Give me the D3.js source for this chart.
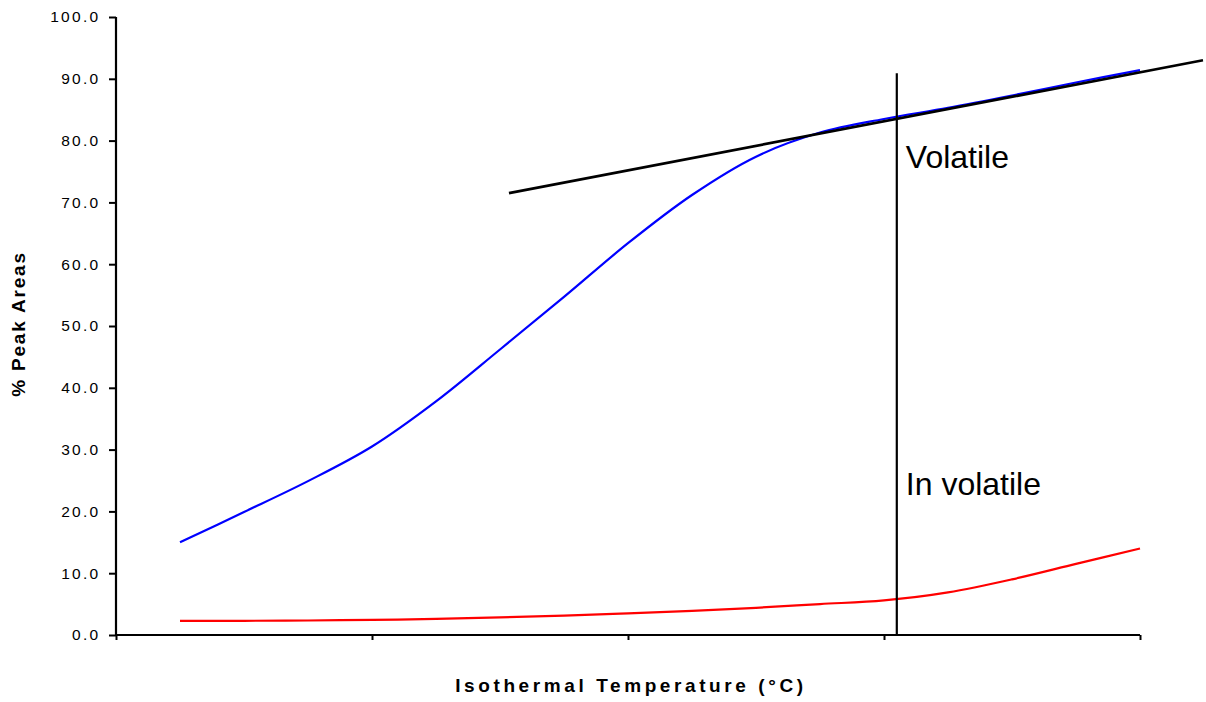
<!DOCTYPE html>
<html>
<head>
<meta charset="utf-8">
<script src="https://cdn.jsdelivr.net/npm/d3@7"></script>
<style>
  html, body { margin: 0; padding: 0; background: #fff; }
  svg { display: block; }
  text { font-family: "Liberation Sans", Arial, sans-serif; fill: #000; }
</style>
</head>
<body>
<svg id="chart" width="1206" height="702"></svg>
<script>
// ---- data ----
const xPositions = [0.25, 0.5, 0.75, 1.0, 1.25, 1.5, 1.75, 2.0, 2.25, 2.5, 2.75, 3.0, 3.25, 3.5, 3.75, 4.0];
const volatileValues   = [15.0, 19.9, 24.9, 30.5, 37.8, 46.2, 54.7, 63.4, 71.2, 77.4, 81.3, 83.5, 85.3, 87.3, 89.4, 91.4];
const involatileValues = [2.3, 2.3, 2.35, 2.45, 2.6, 2.85, 3.15, 3.5, 3.9, 4.4, 5.0, 5.6, 6.9, 9.0, 11.5, 14.0];
const tangentX = [1.535, 4.246];
const tangentY = [71.5, 93.0];
const dividerX = [3.05, 3.05];
const dividerY = [0, 90.9];
const xTicks = [0, 1, 2, 3, 4];
const yTicks = [0, 10, 20, 30, 40, 50, 60, 70, 80, 90, 100];
const xTitle = "Isothermal Temperature (°C)";
const yTitle = "% Peak Areas";
const labelVolatile = "Volatile";
const labelInvolatile = "In volatile";

// ---- layout ----
const svg = d3.select("#chart");
const x = d3.scaleLinear().domain([0, 4]).range([116, 1140]);
const y = d3.scaleLinear().domain([0, 100]).range([635, 17]);

// y axis
const yAxis = svg.append("g")
  .attr("transform", "translate(116,0)")
  .call(d3.axisLeft(y).tickValues(yTicks).tickFormat(d3.format(".1f")).tickSize(7).tickPadding(8.5));
yAxis.select(".domain").attr("stroke", "#000").attr("stroke-width", 2.2).attr("d", `M0,${y(100)}V${y(0)}`);
yAxis.selectAll(".tick line").attr("stroke", "#000").attr("stroke-width", 2);
yAxis.selectAll(".tick text")
  .style("font-family", '"Liberation Sans", Arial, sans-serif')
  .style("font-size", "15.5px")
  .style("letter-spacing", "2.3px")
  .attr("fill", "#000");

// x axis
const xAxis = svg.append("g")
  .attr("transform", "translate(0,635)")
  .call(d3.axisBottom(x).tickValues(xTicks).tickFormat("").tickSize(5));
xAxis.select(".domain").attr("stroke", "#000").attr("stroke-width", 2.2).attr("d", `M${x(0)},0H${x(4)}`);
xAxis.selectAll(".tick line").attr("stroke", "#000").attr("stroke-width", 2);

// lines
const line = d3.line()
  .x((d, i) => x(xPositions[i]))
  .y(d => y(d))
  .curve(d3.curveCatmullRom.alpha(0.5));

svg.append("path")
  .datum(involatileValues)
  .attr("d", line)
  .attr("fill", "none")
  .attr("stroke", "#ff0000")
  .attr("stroke-width", 2.2);

svg.append("path")
  .datum(volatileValues)
  .attr("d", line)
  .attr("fill", "none")
  .attr("stroke", "#0000ff")
  .attr("stroke-width", 2.2);

const straight = d3.line().x(d => x(d[0])).y(d => y(d[1]));

svg.append("path")
  .datum(d3.zip(tangentX, tangentY))
  .attr("d", straight)
  .attr("fill", "none")
  .attr("stroke", "#000")
  .attr("stroke-width", 2.6);

svg.append("path")
  .datum(d3.zip(dividerX, dividerY))
  .attr("d", straight)
  .attr("fill", "none")
  .attr("stroke", "#000")
  .attr("stroke-width", 2.2);

// region labels
svg.append("text")
  .attr("x", x(dividerX[0]) + 9)
  .attr("y", 168)
  .style("font-size", "32px")
  .text(labelVolatile);

svg.append("text")
  .attr("x", x(dividerX[0]) + 9)
  .attr("y", 495)
  .style("font-size", "32px")
  .text(labelInvolatile);

// axis titles
svg.append("text")
  .attr("x", 631)
  .attr("y", 692)
  .attr("text-anchor", "middle")
  .style("font-size", "19px")
  .style("font-weight", "bold")
  .style("letter-spacing", "3.6px")
  .text(xTitle);

svg.append("text")
  .attr("transform", "translate(25,324) rotate(-90)")
  .attr("text-anchor", "middle")
  .style("font-size", "19px")
  .style("font-weight", "bold")
  .style("letter-spacing", "1.8px")
  .text(yTitle);
</script>
</body>
</html>
